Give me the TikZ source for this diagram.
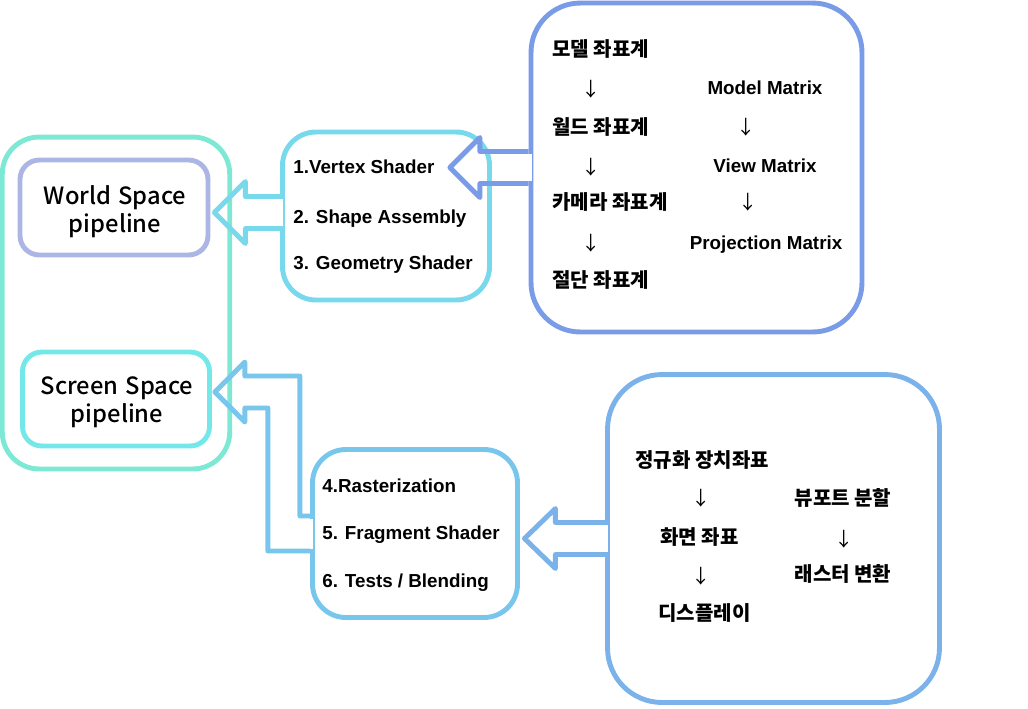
\documentclass[tikz,border=0pt]{standalone}
\usepackage{fontspec}
\setmainfont{Liberation Sans}
\newfontfamily\krfont{Noto Sans CJK KR}
\newfontfamily\titlefont{Noto Sans CJK KR}[UprightFont={* Medium}]
\usepackage{tikz}
\usetikzlibrary{positioning,calc}
\definecolor{OuterTeal}{RGB}{125,232,212}
\definecolor{WorldLav}{RGB}{172,182,228}
\definecolor{ScreenCyan}{RGB}{116,232,232}
\definecolor{VertCyan}{RGB}{120,216,236}
\definecolor{MatBlue}{RGB}{122,156,232}
\definecolor{FragBlue}{RGB}{120,198,236}
\definecolor{ScrBlue}{RGB}{124,178,234}

\begin{document}
\begin{tikzpicture}[x=0.02cm, y=-0.02cm,
    box/.style={rectangle, line width=2.8pt, inner sep=0pt},
    spacelbl/.style={align=center, inner sep=0pt, font=\titlefont\fontsize{13.5}{16}\selectfont},
    stage/.style={anchor=west, inner sep=0pt, text height=7.6pt, text depth=0pt,
        font=\fontsize{10.7}{13}\selectfont\bfseries},
    mtx/.style={inner sep=0pt, text height=7.6pt, text depth=0pt,
        font=\fontsize{10.7}{13}\selectfont\bfseries},
    kor/.style={anchor=west, inner sep=0pt, text height=9.4pt, text depth=0.8pt,
        font=\krfont\bfseries\fontsize{11.4}{14}\selectfont},
    arrowdn/.style={inner sep=0pt, font=\krfont\fontsize{11}{13}\selectfont},
    barrow/.style={line width=2.8pt, line join=round},
]
\useasboundingbox (0,0) rectangle (1028,708);

% left: the two pipelines
\node[box, draw=OuterTeal, rounded corners=21pt, minimum width=4.55cm, minimum height=6.64cm] (outer) at (116,303) {};
\node[box, draw=WorldLav, rounded corners=11pt, minimum width=3.76cm, minimum height=1.9cm] (world) at (114,207.5) {};
\node[spacelbl] (worldtxt) at (115,212) {World\hspace{0.3em}Space\\pipeline};
\node[box, draw=ScreenCyan, rounded corners=11pt, minimum width=3.74cm, minimum height=1.88cm] (screen) at (116,399) {};
\node[spacelbl] (screentxt) at (117,402) {Screen\hspace{0.3em}Space\\pipeline};

% stage boxes
\node[box, draw=VertCyan, rounded corners=19pt, minimum width=4.14cm, minimum height=3.36cm] (vertex) at (386,216) {};
\node[stage] (s1) at (293,167) {1.Vertex Shader};
\node[stage] (s2) at (293,217) {2. Shape Assembly};
\node[stage] (s3) at (293,263) {3. Geometry Shader};

\node[box, draw=FragBlue, rounded corners=19pt, minimum width=4.1cm, minimum height=3.36cm] (frag) at (415,533.5) {};
\node[stage] (s4) at (322,486) {4.Rasterization};
\node[stage] (s5) at (322,533) {5. Fragment Shader};
\node[stage] (s6) at (322,581) {6. Tests / Blending};

% coordinate systems
\node[box, draw=MatBlue, rounded corners=28pt, minimum width=6.62cm, minimum height=6.58cm] (mats) at (696.5,167.5) {};
\node[kor] (m1) at (552,49) {모델 좌표계};
\node[arrowdn] (d1) at (591,89) {↓};
\node[kor] (m2) at (552,127) {월드 좌표계};
\node[arrowdn] (d2) at (591,167) {↓};
\node[kor] (m3) at (552,202) {카메라 좌표계};
\node[arrowdn] (d3) at (591,243) {↓};
\node[kor] (m4) at (552,280) {절단 좌표계};
\node[mtx] (mm) at (765,88) {Model Matrix};
\node[arrowdn] (d4) at (746,127) {↓};
\node[mtx] (vm) at (765,166) {View Matrix};
\node[arrowdn] (d5) at (748,202) {↓};
\node[mtx] (pm) at (766,243) {Projection Matrix};

\node[box, draw=ScrBlue, rounded corners=31pt, minimum width=6.64cm, minimum height=6.56cm] (scr) at (773.5,538.5) {};
\node[kor] (n1) at (635,460) {정규화 장치좌표};
\node[arrowdn] (d6) at (701,498) {↓};
\node[kor] (n2) at (660,537) {화면 좌표};
\node[arrowdn] (d7) at (701,576) {↓};
\node[kor] (n3) at (658,613) {디스플레이};
\node[kor, anchor=center] (n4) at (843,498) {뷰포트 분할};
\node[arrowdn] (d8) at (844,539) {↓};
\node[kor, anchor=center] (n5) at (843,574) {래스터 변환};

% arrow tips
\coordinate (t1) at ($(world.east)+(4,5)$);
\coordinate (t2) at ($(vertex.east |- mats.west)+(-42,0)$);
\coordinate (t3) at ($(frag.east |- scr.west)+(4.5,0)$);
\coordinate (t4) at ($(screen.east)+(3,-7)$);

% open the boxes where the arrows leave them
\fill[white] ($(vertex.west |- t1)+(-3,-13.5)$) rectangle ++(6,27);
\fill[white] ($(mats.west |- t2)+(-3,-13.5)$) rectangle ++(6,27);
\fill[white] ($(scr.west |- t3)+(-3,-13.5)$) rectangle ++(6,27);
\fill[white] ($(frag.west)+(-3,-15)$) rectangle ++(6,30);

% block arrows
\draw[barrow, draw=VertCyan] ($(vertex.west |- t1)+(0,-16)$) -| ($(t1)+(31,-31)$) -- (t1) -- ($(t1)+(31,31)$) |- ($(vertex.west |- t1)+(0,16)$);
\draw[barrow, draw=MatBlue] ($(mats.west |- t2)+(0,-16)$) -| ($(t2)+(30,-30)$) -- (t2) -- ($(t2)+(30,30)$) |- ($(mats.west |- t2)+(0,16)$);
\draw[barrow, draw=ScrBlue] ($(scr.west |- t3)+(0,-16)$) -| ($(t3)+(31,-30)$) -- (t3) -- ($(t3)+(31,30)$) |- ($(scr.west |- t3)+(0,16)$);
\draw[barrow, draw=FragBlue] ($(frag.west)+(0,-17.5)$) -| ($(t4)+(85,-16)$) -| ($(t4)+(30,-30)$) -- (t4) -- ($(t4)+(30,30)$) |- ($(t4)+(53,16)$) |- ($(frag.west)+(0,17.5)$);
\end{tikzpicture}
\end{document}
